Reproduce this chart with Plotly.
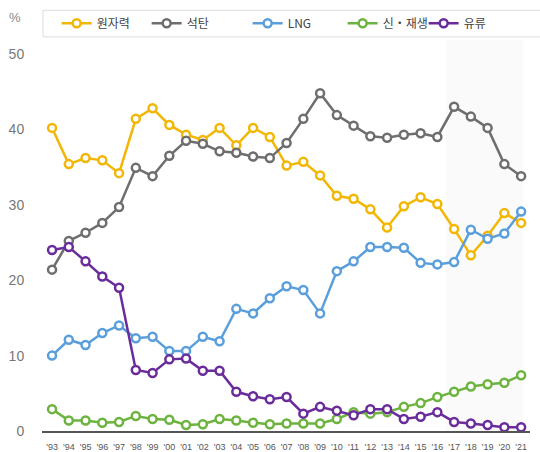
import plotly.graph_objects as go

years = ["'93","'94","'95","'96","'97","'98","'99","'00","'01","'02","'03","'04","'05","'06","'07",
         "'08","'09","'10","'11","'12","'13","'14","'15","'16","'17","'18","'19","'20","'21"]

nuclear = [40.2,35.4,36.2,35.9,34.2,41.4,42.8,40.6,39.3,38.6,40.2,37.9,40.2,39.0,35.2,
           35.7,33.9,31.2,30.8,29.4,27.0,29.8,31.0,30.1,26.8,23.3,25.9,28.9,27.6]
coal = [21.4,25.2,26.3,27.6,29.7,34.9,33.8,36.5,38.5,38.1,37.1,36.9,36.4,36.2,38.2,
        41.4,44.8,41.9,40.5,39.1,38.9,39.3,39.5,39.0,43.0,41.7,40.2,35.4,33.8]
lng = [10.0,12.1,11.4,13.0,14.0,12.3,12.5,10.6,10.6,12.5,11.9,16.2,15.6,17.6,19.2,
       18.7,15.6,21.2,22.5,24.4,24.4,24.3,22.3,22.1,22.4,26.7,25.5,26.2,29.1]
renew = [2.9,1.4,1.4,1.1,1.2,2.0,1.6,1.5,0.8,0.9,1.6,1.4,1.1,0.9,1.0,
         1.0,1.0,1.6,2.5,2.3,2.5,3.2,3.7,4.5,5.2,5.9,6.2,6.4,7.4]
oil = [24.0,24.4,22.5,20.5,19.0,8.1,7.7,9.5,9.6,8.0,8.0,5.2,4.6,4.2,4.5,
       2.3,3.2,2.7,2.1,2.9,2.9,1.6,1.9,2.5,1.2,1.0,0.8,0.5,0.5]

series = [
    ("원자력", nuclear, "#F2B705", 45),
    ("석탄", coal, "#6E6E6E", 56),
    ("LNG", lng, "#5A9FDB", 50),
    ("신・재생", renew, "#6DB33F", 36),
    ("유류", oil, "#6A2C9B", 40),
]

x = list(range(len(years)))
fig = go.Figure()
for name, vals, col, lw in series:
    fig.add_trace(go.Scatter(
        x=x, y=vals, name=name, mode="lines+markers",
        line=dict(color=col, width=2.5),
        marker=dict(symbol="circle", size=8, color="white", line=dict(color=col, width=2.5)),
        cliponaxis=False, legendwidth=lw,
    ))

fig.add_shape(type="rect", xref="x", yref="paper", x0=23.5, x1=28.1, y0=0, y1=1,
              fillcolor="#FAFAFB", line=dict(width=0), layer="below")
fig.add_shape(type="rect", xref="paper", yref="paper", x0=0.002, x1=1.05, y0=1.008, y1=1.076,
              fillcolor="rgba(0,0,0,0)", line=dict(color="#DDDDDD", width=1))

fig.add_annotation(text="%", xref="paper", yref="paper", x=-0.055, y=1.058,
                   xanchor="center", yanchor="middle", showarrow=False,
                   font=dict(size=13, color="#888888", family="Liberation Sans"))

fig.update_layout(
    width=540, height=452,
    margin=dict(l=42, r=10, t=40, b=21, autoexpand=False),
    paper_bgcolor="white", plot_bgcolor="white",
    showlegend=True,
    legend=dict(orientation="h", x=0.03, y=1.043, xanchor="left", yanchor="middle",
                font=dict(size=12, color="#444444", family="Noto Sans CJK KR"),
                bgcolor="rgba(0,0,0,0)", itemwidth=30, tracegroupgap=0,
                entrywidthmode="pixels"),
    xaxis=dict(range=[-0.6, 28.53], tickmode="array", tickvals=x, ticktext=years,
               automargin=False,
               showgrid=False, zeroline=False, showline=True, linecolor="#555555", linewidth=2,
               ticks="outside", ticklen=6, tickcolor="rgba(0,0,0,0)",
               tickfont=dict(size=9, color="#555555", family="Liberation Sans Narrow, Liberation Sans"),
               tickangle=0),
    yaxis=dict(range=[0, 51.86], tickvals=[0,10,20,30,40,50], showgrid=False, zeroline=False,
               automargin=False,
               showline=False, ticks="outside", ticklen=14, tickcolor="rgba(0,0,0,0)",
               tickfont=dict(size=14, color="#777777", family="Liberation Sans")),
)

fig.write_html("out.html")
